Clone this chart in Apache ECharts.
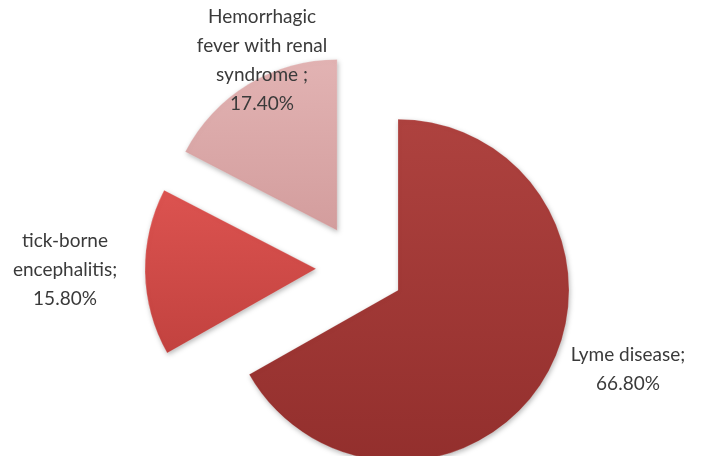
<!DOCTYPE html>
<html>
<head>
<meta charset="utf-8">
<script src="https://cdn.jsdelivr.net/npm/echarts@6/dist/echarts.min.js"></script>
<style>
  html, body { margin: 0; padding: 0; background: #ffffff; }
  #chart { width: 719px; height: 456px; }
</style>
</head>
<body>
<div id="chart"></div>
<script>
// Share of tick-borne infections (percent)
const categories = ['Lyme disease', 'tick-borne encephalitis', 'Hemorrhagic fever with renal syndrome'];
const shares = [66.8, 15.8, 17.4];
// how each category name is broken over lines in its label
const nameLines = [
  ['Lyme disease;'],
  ['tick-borne', 'encephalitis;'],
  ['Hemorrhagic', 'fever with renal', 'syndrome ;']
];

// slice fills: top colour, bottom colour
const fills = [
  ['#ae423f', '#932f2d'],
  ['#dc5350', '#c2423f'],
  ['#e2b3b3', '#d39d9d']
];
// label anchor points (centre of each text block)
const labelSpots = [
  [628, 369],
  [65, 270],
  [262, 60]
];

function grad(c) {
  return new echarts.graphic.LinearGradient(0, 0, 0, 1, [
    { offset: 0, color: c[0] },
    { offset: 1, color: c[1] }
  ]);
}

const chart = echarts.init(document.getElementById('chart'), null, { renderer: 'canvas' });

const data = categories.map((name, i) => {
  const style = {
    color: grad(fills[i]),
    shadowBlur: 5,
    shadowOffsetX: 1,
    shadowOffsetY: 2,
    shadowColor: 'rgba(0,0,0,0.28)',
    borderColor: 'rgba(255,255,255,0.18)',
    borderWidth: 1
  };
  return {
    name: name,
    value: shares[i],
    selected: true,
    itemStyle: style,
    select: { itemStyle: style }
  };
});

// category labels: name lines followed by the share
const labels = categories.map((name, i) => ({
  type: 'text',
  x: labelSpots[i][0],
  y: labelSpots[i][1],
  z: 100,
  silent: true,
  style: {
    text: nameLines[i].concat([shares[i].toFixed(2) + '%']).join('\n'),
    fill: '#3a3a3a',
    font: '19px Lato, "Open Sans", sans-serif',
    lineHeight: 29,
    align: 'center',
    verticalAlign: 'middle'
  }
}));

chart.setOption({
  animation: false,
  graphic: labels,
  series: [{
    type: 'pie',
    z: 2,
    center: [360, 268],
    radius: [0, 171],
    startAngle: 90,
    clockwise: true,
    selectedMode: 'multiple',
    selectedOffset: 44,
    emphasis: { disabled: true },
    label: { show: false },
    labelLine: { show: false },
    data: data
  }]
});
</script>
</body>
</html>
